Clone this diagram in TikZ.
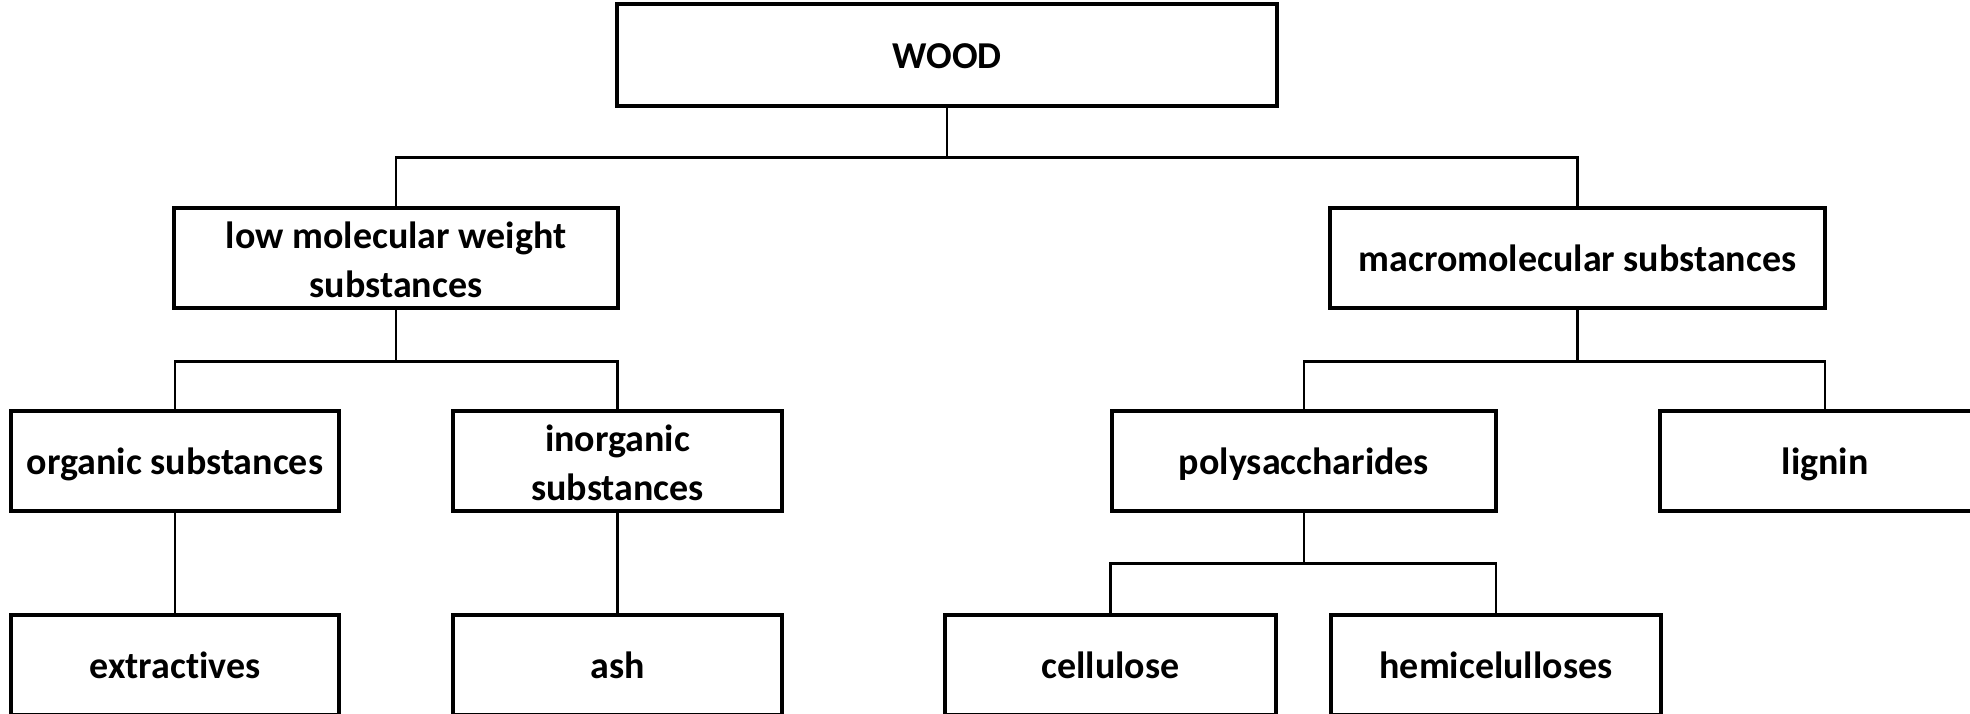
\documentclass[tikz,border=0pt]{standalone}
\usepackage{fontspec}
\setmainfont{Carlito}[Ligatures=NoCommon]
\newcommand{\topline}{\rule{0pt}{0.8em}}
\tikzset{
	part/.style={draw=black, line width=2.3pt, inner sep=0pt, minimum height=2.5cm, align=center, font=\bfseries\fontsize{27}{35}\selectfont},
	oneline/.style={part, text height=23pt, text depth=4pt},
	branch/.style={black, line width=1.8pt}
}
\begin{document}
\begin{tikzpicture}[x=0.025cm, y=-0.025cm]
	\useasboundingbox (0,0) rectangle (1970,714);

	\node[oneline, minimum width=16.5cm, minimum height=2.55cm] (wood) at (947,55) {WOOD};

	\node[part, minimum width=11.1cm] (low) at (396,258) {\topline low molecular weight\\substances};
	\node[oneline, minimum width=12.375cm] (macro) at (1577.5,258) {macromolecular substances};

	\node[oneline, minimum width=8.2cm] (organic) at (175,461) {organic substances};
	\node[part, minimum width=8.225cm] (inorganic) at (617.5,461) {\topline inorganic\\substances};
	\node[oneline, minimum width=9.6cm] (poly) at (1304,461) {polysaccharides};
	\node[oneline, minimum width=8.25cm] (lignin) at (1825,461) {lignin};

	\node[oneline, minimum width=8.2cm] (extract) at (175,665) {extractives};
	\node[oneline, minimum width=8.225cm] (ash) at (617.5,665) {ash};
	\node[oneline, minimum width=8.275cm] (cellulose) at (1110.5,665) {cellulose};
	\node[oneline, minimum width=8.25cm] (hemi) at (1496,665) {hemicelulloses};

	\draw[branch] (wood.south) -- ++(0,50) -| (low.north);
	\draw[branch] (wood.south) -- ++(0,50) -| (macro.north);
	\draw[branch] (low.south) -- ++(0,52) -| (organic.north);
	\draw[branch] (low.south) -- ++(0,52) -| (inorganic.north);
	\draw[branch] (macro.south) -- ++(0,52) -| (poly.north);
	\draw[branch] (macro.south) -- ++(0,52) -| (lignin.north);
	\draw[branch] (organic.south) -- (extract.north);
	\draw[branch] (inorganic.south) -- (ash.north);
	\draw[branch] (poly.south) -- ++(0,51) -| (cellulose.north);
	\draw[branch] (poly.south) -- ++(0,51) -| (hemi.north);
\end{tikzpicture}
\end{document}
